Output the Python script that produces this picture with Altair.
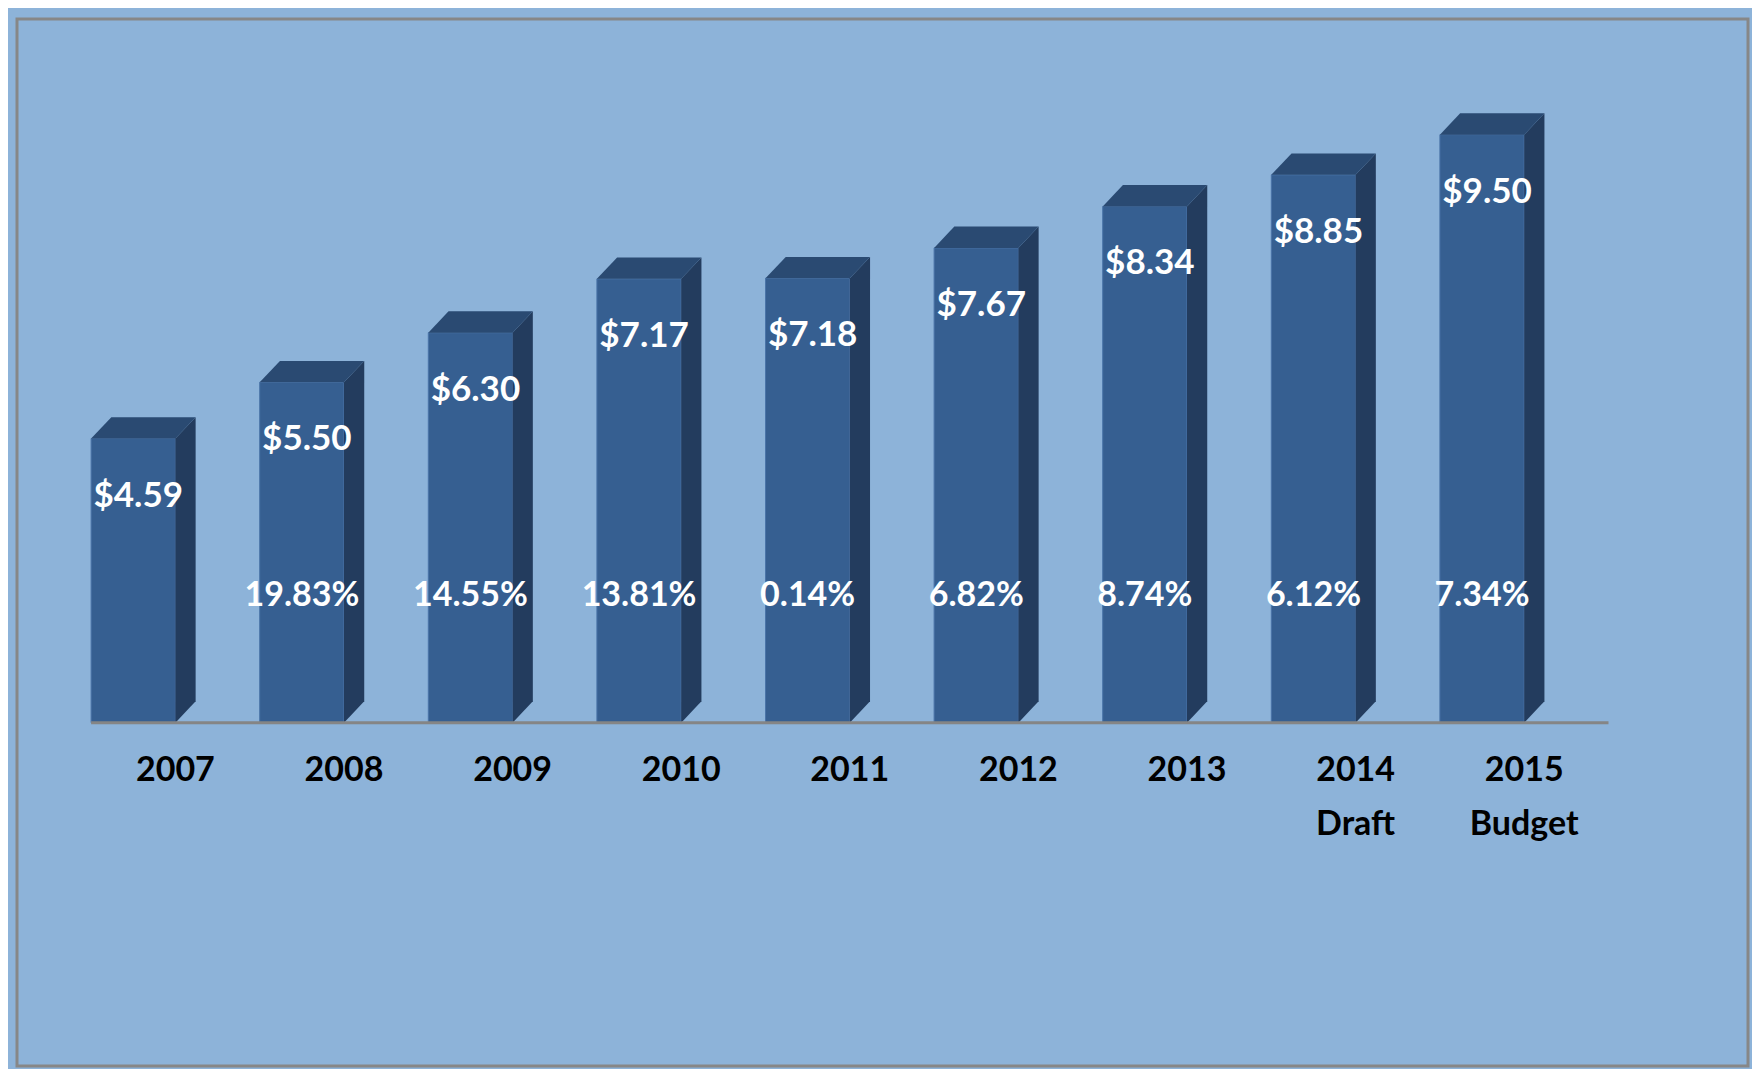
import altair as alt
import pandas as pd

# ---- data ----
years = ["2007", "2008", "2009", "2010", "2011", "2012", "2013", "2014", "2015"]
year_labels = ["2007", "2008", "2009", "2010", "2011", "2012", "2013", "2014\nDraft", "2015\nBudget"]
values = [4.59, 5.50, 6.30, 7.17, 7.18, 7.67, 8.34, 8.85, 9.50]
pct_change = [None, 19.83, 14.55, 13.81, 0.14, 6.82, 8.74, 6.12, 7.34]

df = pd.DataFrame({
    "year": years,
    "label": year_labels,
    "value": values,
    "pct": pct_change,
    "idx": list(range(len(years))),
})

# ---- 3D look parameters (in scale units) ----
FW = 0.5     # front face width
DX = 0.12    # depth offset (x)
DY = 0.345   # depth offset (y)

FRONT = "#365F91"
SIDE = "#233C5E"
TOP = "#2A4A72"
FONT = "Lato"

xs = alt.Scale(domain=[-0.9395, 9.3274], nice=False, zero=False)
ys = alt.Scale(domain=[-5.546, 11.368], nice=False, zero=False)

base = alt.Chart(df)

front = base.transform_calculate(
    x0=f"datum.idx - {FW}", x1="datum.idx", y0="0"
).mark_rect(color=FRONT, stroke="#4A74A8", strokeWidth=1).encode(
    x=alt.X("x0:Q", scale=xs, axis=None),
    x2="x1:Q",
    y=alt.Y("y0:Q", scale=ys, axis=None),
    y2="value:Q",
)

top = base.transform_calculate(
    c0="0", c1="1", c2="2", c3="3"
).transform_fold(
    ["c0", "c1", "c2", "c3"], as_=["kname", "k"]
).transform_calculate(
    px=f"datum.idx + (datum.k==0 ? {-FW} : datum.k==1 ? {-FW + DX} : datum.k==2 ? 0 : {DX})",
    ptop=f"datum.value + (datum.k==0 ? 0 : {DY})",
    pbot=f"datum.value + (datum.k==3 ? {DY} : 0)",
).mark_area(color=TOP).encode(
    x=alt.X("px:Q", scale=xs, axis=None),
    y=alt.Y("ptop:Q", scale=ys, axis=None, stack=None),
    y2="pbot:Q",
    detail="year:N",
)

side = base.transform_calculate(
    c0="0", c1="1"
).transform_fold(
    ["c0", "c1"], as_=["kname", "k"]
).transform_calculate(
    px=f"datum.idx + datum.k*{DX}",
    ptop=f"datum.value + datum.k*{DY}",
    pbot=f"datum.k*{DY}",
).mark_area(color=SIDE).encode(
    x=alt.X("px:Q", scale=xs, axis=None),
    y=alt.Y("ptop:Q", scale=ys, axis=None, stack=None),
    y2="pbot:Q",
    detail="year:N",
)

baseline = base.transform_aggregate(lo="min(idx)", hi="max(idx)").transform_calculate(
    lo2="datum.lo - 0.5", hi2="datum.hi + 0.5", y0="0"
).mark_rule(color="#858585", strokeWidth=3).encode(
    x=alt.X("lo2:Q", scale=xs, axis=None),
    x2="hi2:Q",
    y=alt.Y("y0:Q", scale=ys, axis=None),
)

val_labels = base.transform_calculate(
    xc=f"datum.idx - {FW / 2}", txt="'$' + format(datum.value, '.2f')"
).mark_text(
    font=FONT, fontWeight="bold", fontSize=35, color="white",
    dx=5, dy=57, baseline="middle", align="center",
).encode(
    x=alt.X("xc:Q", scale=xs, axis=None),
    y=alt.Y("value:Q", scale=ys, axis=None),
    text="txt:N",
)

pct_labels = base.transform_filter("isValid(datum.pct)").transform_calculate(
    xc=f"datum.idx - {FW / 2}", yc="2.05", txt="format(datum.pct, '.2f') + '%'"
).mark_text(
    font=FONT, fontWeight="bold", fontSize=34, color="white",
    baseline="middle", align="center",
).encode(
    x=alt.X("xc:Q", scale=xs, axis=None),
    y=alt.Y("yc:Q", scale=ys, axis=None),
    text="txt:N",
)

x_labels = base.transform_calculate(y0="0").mark_text(
    font=FONT, fontWeight="bold", fontSize=34, color="black",
    baseline="top", align="center", dy=31, lineHeight=54, lineBreak="\n",
).encode(
    x=alt.X("idx:Q", scale=xs, axis=None),
    y=alt.Y("y0:Q", scale=ys, axis=None),
    text="label:N",
)

chart = alt.layer(
    front, side, top, baseline, val_labels, pct_labels, x_labels
).properties(
    width=1731,
    height=1047,
    padding={"left": 9, "top": 11, "right": 4, "bottom": 3},
    autosize="none",
    background="#8DB3D9",
).configure_view(
    stroke="#878787", strokeWidth=3
)

chart.save("out.html", embed_options={"renderer": "svg", "actions": False})
